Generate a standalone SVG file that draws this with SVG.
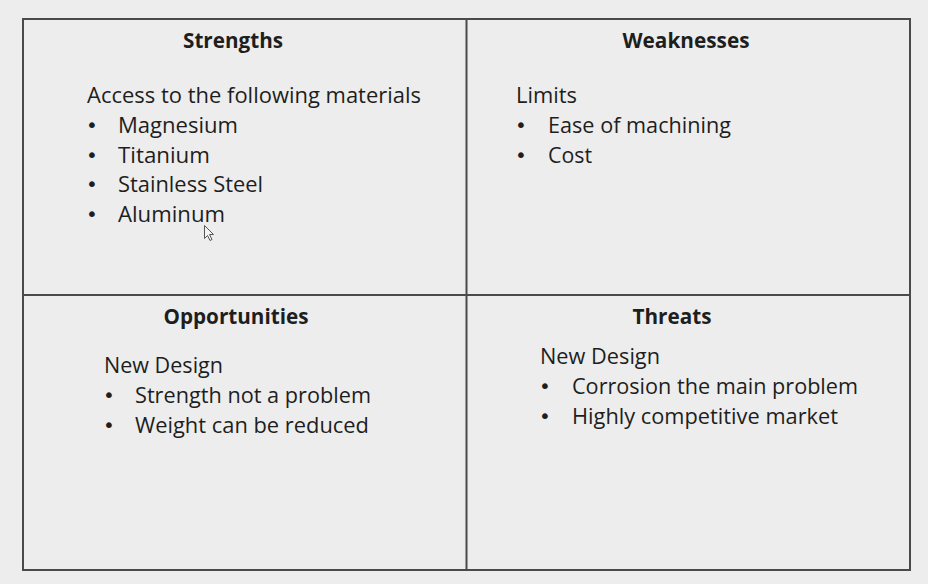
<svg xmlns="http://www.w3.org/2000/svg" width="928" height="584" viewBox="0 0 928 584">
  <style>
    .grid { fill: none; stroke: #4a4a4a; stroke-width: 2; }
    .head { font-family: "Open Sans", "Noto Sans", sans-serif; font-weight: bold; font-size: 21px; fill: #1e1e1e; text-anchor: middle; }
    .body { font-family: "Open Sans", "Noto Sans", sans-serif; font-size: 22px; fill: #1e1e1e; }
    .dot { font-family: "DejaVu Sans", sans-serif; font-size: 20px; fill: #1e1e1e; }
  </style>
  <rect width="928" height="584" fill="#ededed"/>

  <!-- quadrant grid -->
  <g id="connectors">
    <rect class="grid" x="23" y="19" width="887" height="551"/>
    <line class="grid" x1="466.5" y1="19" x2="466.5" y2="570"/>
    <line class="grid" x1="23" y1="295" x2="910" y2="295"/>
  </g>

  <g id="strengths">
    <text class="head" x="233" y="48" textLength="100" lengthAdjust="spacingAndGlyphs">Strengths</text>
    <text class="body" x="87" y="103" textLength="334" lengthAdjust="spacingAndGlyphs">Access to the following materials</text>
    <text class="dot" x="86" y="132">•</text>
    <text class="body" x="118" y="133" textLength="120" lengthAdjust="spacingAndGlyphs">Magnesium</text>
    <text class="dot" x="86" y="162">•</text>
    <text class="body" x="118" y="163" textLength="92" lengthAdjust="spacingAndGlyphs">Titanium</text>
    <text class="dot" x="86" y="191">•</text>
    <text class="body" x="118" y="192" textLength="145" lengthAdjust="spacingAndGlyphs">Stainless Steel</text>
    <text class="dot" x="86" y="221">•</text>
    <text class="body" x="118" y="222" textLength="107" lengthAdjust="spacingAndGlyphs">Aluminum</text>
    <!-- pointer -->
    <path d="M204.5 225.5 L204.5 238.5 L207.5 235.5 L210 240.5 L212 239.5 L209.5 234.5 L213.5 234.5 Z" fill="#f4f4f4" stroke="#555" stroke-width="1"/>
  </g>

  <g id="weaknesses">
    <text class="head" x="686" y="48" textLength="127" lengthAdjust="spacingAndGlyphs">Weaknesses</text>
    <text class="body" x="516" y="103" textLength="61" lengthAdjust="spacingAndGlyphs">Limits</text>
    <text class="dot" x="515" y="132">•</text>
    <text class="body" x="548" y="133" textLength="183" lengthAdjust="spacingAndGlyphs">Ease of machining</text>
    <text class="dot" x="515" y="162">•</text>
    <text class="body" x="548" y="163" textLength="44" lengthAdjust="spacingAndGlyphs">Cost</text>
  </g>

  <g id="opportunities">
    <text class="head" x="236" y="324" textLength="145" lengthAdjust="spacingAndGlyphs">Opportunities</text>
    <text class="body" x="104" y="373" textLength="119" lengthAdjust="spacingAndGlyphs">New Design</text>
    <text class="dot" x="103" y="402">•</text>
    <text class="body" x="135" y="403" textLength="236" lengthAdjust="spacingAndGlyphs">Strength not a problem</text>
    <text class="dot" x="103" y="432">•</text>
    <text class="body" x="135" y="433" textLength="234" lengthAdjust="spacingAndGlyphs">Weight can be reduced</text>
  </g>

  <g id="threats">
    <text class="head" x="672" y="324" textLength="79" lengthAdjust="spacingAndGlyphs">Threats</text>
    <text class="body" x="540" y="364" textLength="120" lengthAdjust="spacingAndGlyphs">New Design</text>
    <text class="dot" x="539" y="393">•</text>
    <text class="body" x="572" y="394" textLength="286" lengthAdjust="spacingAndGlyphs">Corrosion the main problem</text>
    <text class="dot" x="539" y="423">•</text>
    <text class="body" x="572" y="424" textLength="266" lengthAdjust="spacingAndGlyphs">Highly competitive market</text>
  </g>
</svg>
